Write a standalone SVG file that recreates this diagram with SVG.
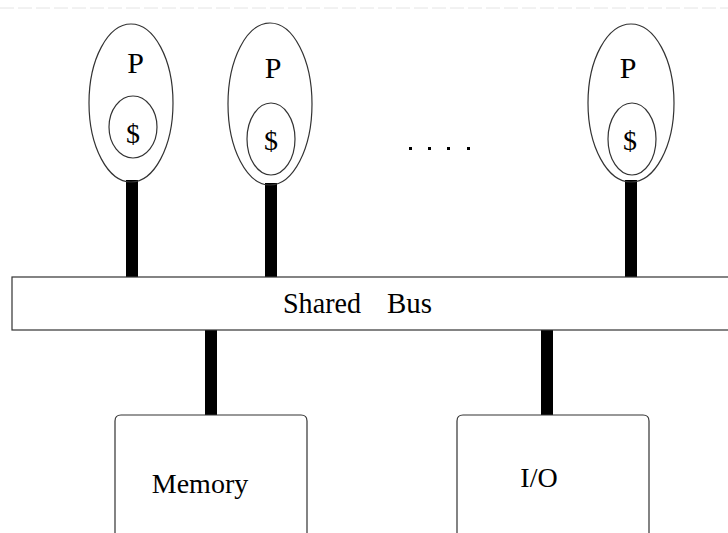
<svg xmlns="http://www.w3.org/2000/svg" width="728" height="533" viewBox="0 0 728 533">
  <style>
    .outline { fill: none; stroke: #333; stroke-width: 1.2; }
    .box { fill: #fff; stroke: #333; stroke-width: 1.2; }
    .post { fill: #000; }
    .lbl { font-family: "Liberation Serif", "Times New Roman", serif; fill: #000; }
  </style>
  <rect width="728" height="533" fill="#fff"/>
  <line x1="0" y1="8" x2="728" y2="8" stroke="#e4e4e4" stroke-width="1" stroke-dasharray="14 4"/>

  <!-- bus links -->
  <g id="connectors">
    <rect class="post" x="126" y="180" width="12" height="98"/>
    <rect class="post" x="265" y="183" width="12" height="95"/>
    <rect class="post" x="625" y="180" width="12" height="98"/>
    <rect class="post" x="205" y="330" width="12" height="86"/>
    <rect class="post" x="541" y="330" width="12" height="86"/>
  </g>

  <g id="proc1">
    <ellipse class="outline" cx="131" cy="103" rx="42" ry="79"/>
    <ellipse class="outline" cx="133" cy="127" rx="24" ry="31"/>
    <text class="lbl" x="135.5" y="73" font-size="30" text-anchor="middle">P</text>
    <text class="lbl" x="133" y="143" font-size="28" text-anchor="middle">$</text>
  </g>
  <g id="proc2">
    <ellipse class="outline" cx="270" cy="104" rx="42" ry="81"/>
    <ellipse class="outline" cx="271" cy="139" rx="24" ry="36"/>
    <text class="lbl" x="273" y="78" font-size="30" text-anchor="middle">P</text>
    <text class="lbl" x="271" y="150" font-size="28" text-anchor="middle">$</text>
  </g>
  <g id="ellipsis">
    <rect class="post" x="409" y="147" width="3" height="3"/>
    <rect class="post" x="428" y="147" width="3" height="3"/>
    <rect class="post" x="447" y="147" width="3" height="3"/>
    <rect class="post" x="467" y="147" width="3" height="3"/>
  </g>
  <g id="proc3">
    <ellipse class="outline" cx="631" cy="103" rx="43" ry="79"/>
    <ellipse class="outline" cx="632" cy="139" rx="24" ry="36"/>
    <text class="lbl" x="628" y="78" font-size="30" text-anchor="middle">P</text>
    <text class="lbl" x="630" y="150" font-size="28" text-anchor="middle">$</text>
  </g>

  <g id="bus">
    <rect class="box" x="12" y="277" width="720" height="53"/>
    <text class="lbl" x="283" y="313" font-size="30" textLength="78" lengthAdjust="spacingAndGlyphs">Shared</text>
    <text class="lbl" x="387" y="313" font-size="30" textLength="45" lengthAdjust="spacingAndGlyphs">Bus</text>
  </g>

  <g id="memory">
    <path class="box" d="M115,540 V421 Q115,415 121,415 H301 Q307,415 307,421 V540"/>
    <text class="lbl" x="200" y="493" font-size="28" text-anchor="middle">Memory</text>
  </g>
  <g id="io">
    <path class="box" d="M457,540 V421 Q457,415 463,415 H643 Q649,415 649,421 V540"/>
    <text class="lbl" x="539" y="487" font-size="28" text-anchor="middle">I/O</text>
  </g>
</svg>
